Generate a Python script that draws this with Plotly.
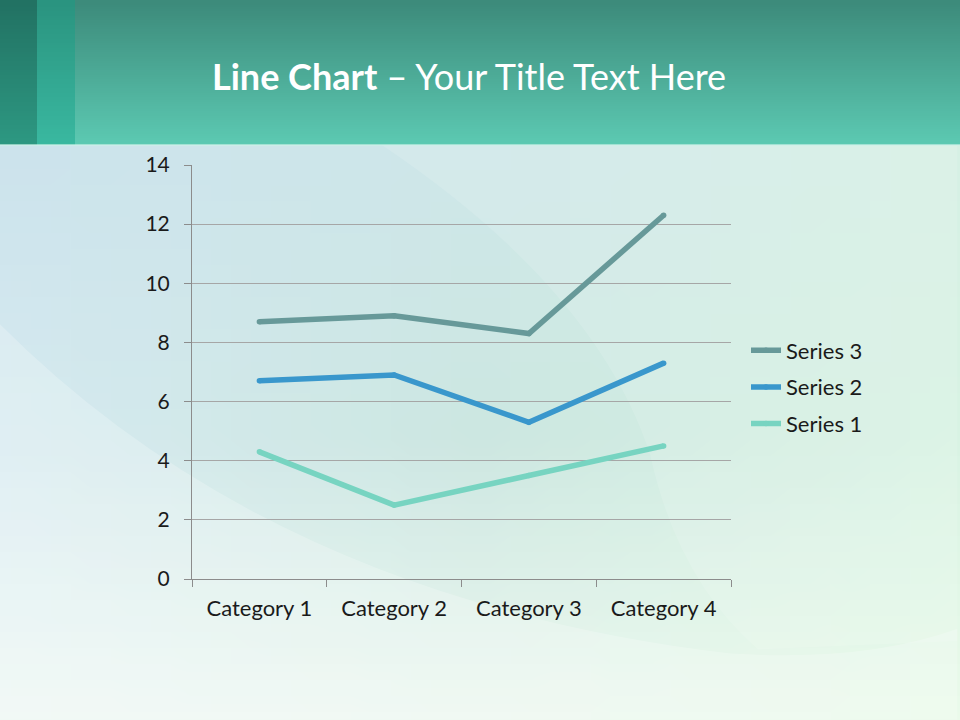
import base64
import struct
import zlib
import plotly.graph_objects as go

categories = ["Category 1", "Category 2", "Category 3", "Category 4"]
series_1 = [4.3, 2.5, 3.5, 4.5]
series_2 = [6.7, 6.9, 5.3, 7.3]
series_3 = [8.7, 8.9, 8.3, 12.3]


# pixel -> paper coordinates (plot area is x 192..731, y 165..579)
def px(x):
    return (x - 192) / 539


def py(y):
    return (579 - y) / 414


def png_uri(rows):
    # rows: list of lists of (r, g, b)
    h, w = len(rows), len(rows[0])
    raw = b"".join(b"\x00" + bytes(v for p in row for v in p) for row in rows)

    def chunk(tag, data):
        return struct.pack(">I", len(data)) + tag + data + struct.pack(">I", zlib.crc32(tag + data) & 0xffffffff)

    png = (b"\x89PNG\r\n\x1a\n" + chunk(b"IHDR", struct.pack(">IIBBBBB", w, h, 8, 2, 0, 0, 0))
           + chunk(b"IDAT", zlib.compress(raw)) + chunk(b"IEND", b""))
    return "data:image/png;base64," + base64.b64encode(png).decode()


def lerp(c1, c2, t):
    return tuple(round(a + (b - a) * t) for a, b in zip(c1, c2))


def vgrad(top, bottom, n=32):
    return png_uri([[lerp(top, bottom, i / (n - 1))] for i in range(n)])


# background: blend of a 3x3 grid of colours
grid = [
    [(204, 227, 236), (206, 231, 233), (214, 240, 228)],
    [(214, 234, 240), (204, 231, 225), (216, 243, 227)],
    [(238, 248, 244), (236, 248, 240), (234, 250, 234)],
]


def grid_colour(u, v):
    r = min(int(v * 2), 1)
    c = min(int(u * 2), 1)
    tv, tu = v * 2 - r, u * 2 - c
    top = lerp(grid[r][c], grid[r][c + 1], tu)
    bot = lerp(grid[r + 1][c], grid[r + 1][c + 1], tu)
    return lerp(top, bot, tv)


bg_rows = [[grid_colour(i / 47, j / 35) for i in range(48)] for j in range(36)]

images = [
    dict(source=png_uri(bg_rows), xref="paper", yref="paper", x=px(0), y=py(145),
         sizex=960 / 539, sizey=575 / 414, sizing="stretch", layer="below"),
    dict(source=vgrad((61, 139, 123), (92, 201, 178)), xref="paper", yref="paper", x=px(0), y=py(0),
         sizex=960 / 539, sizey=145 / 414, sizing="stretch", layer="above"),
    dict(source=vgrad((34, 114, 99), (45, 152, 130)), xref="paper", yref="paper", x=px(0), y=py(0),
         sizex=37 / 539, sizey=145 / 414, sizing="stretch", layer="above"),
    dict(source=vgrad((42, 148, 128), (58, 184, 160)), xref="paper", yref="paper", x=px(37), y=py(0),
         sizex=38 / 539, sizey=145 / 414, sizing="stretch", layer="above"),
]

shapes = [
    # soft swooshes
    dict(type="path", xref="paper", yref="paper", layer="below", line_width=0,
         path="M -0.36 0.62 Q 0.15 -0.05 1.0 -0.18 Q 1.25 -0.2 1.42 -0.12 L 1.42 -0.34 L -0.36 -0.34 Z",
         fillcolor="rgba(255,255,255,0.22)"),
    dict(type="path", xref="paper", yref="paper", layer="below", line_width=0,
         path="M 0.35 1.05 Q 0.75 0.7 0.85 0.3 Q 0.9 0.0 1.05 -0.17 L 1.42 -0.15 L 1.42 1.05 Z",
         fillcolor="rgba(255,255,255,0.12)"),
    # light edge under the header
    dict(type="line", xref="paper", yref="paper", layer="above",
         x0=px(0), x1=px(960), y0=py(145), y1=py(145),
         line=dict(color="rgba(205,240,232,0.85)", width=1.5)),
]

fig = go.Figure()

fig.add_trace(go.Scatter(x=categories, y=series_1, mode="lines+markers", name="Series 1",
                         legendrank=3, legendgroup="s1",
                         line=dict(color="#77d4c1", width=5.5), marker=dict(size=5.5, color="#77d4c1")))
fig.add_trace(go.Scatter(x=categories, y=series_2, mode="lines+markers", name="Series 2",
                         legendrank=2, legendgroup="s2",
                         line=dict(color="#3997cc", width=5.5), marker=dict(size=5.5, color="#3997cc")))
fig.add_trace(go.Scatter(x=categories, y=series_3, mode="lines+markers", name="Series 3",
                         legendrank=1, legendgroup="s3",
                         line=dict(color="#679999", width=5.5), marker=dict(size=5.5, color="#679999")))

fig.update_layout(
    width=960, height=720,
    margin=dict(l=192, r=229, t=165, b=141),
    paper_bgcolor="#d6ecec",
    plot_bgcolor="rgba(0,0,0,0)",
    images=images,
    shapes=shapes,
    font=dict(family="Lato, Open Sans, sans-serif", size=18, color="#1a1a1a"),
    showlegend=True,
    legend=dict(x=px(746), y=py(387), xanchor="left", yanchor="middle",
                traceorder="grouped", bgcolor="rgba(0,0,0,0)",
                font=dict(size=22, color="#1a1a1a"), itemwidth=30, tracegroupgap=5),
    annotations=[dict(xref="paper", yref="paper", x=px(210), y=py(76),
                      xanchor="left", yanchor="middle", showarrow=False,
                      text="<b>Line Chart</b> – Your Title Text Here",
                      font=dict(family="Lato, Open Sans, sans-serif", size=36, color="white"))],
    xaxis=dict(type="category", showgrid=False, showline=True, linecolor="#8c8c8c",
               ticks="outside", tickson="boundaries", ticklen=7, tickcolor="#8c8c8c",
               ticklabelstandoff=10, range=[-0.5, 3.5], tickfont=dict(size=22), fixedrange=True),
    yaxis=dict(range=[0, 14], dtick=2, showgrid=True, gridcolor="#a6a6a6", gridwidth=1,
               showline=True, linecolor="#8c8c8c", ticks="outside", ticklen=7,
               tickcolor="#8c8c8c", ticklabelstandoff=10, zeroline=False,
               tickfont=dict(size=21), fixedrange=True),
)

fig.write_html("out.html", config={"displayModeBar": False},
               post_script="document.body.style.margin='0';")
